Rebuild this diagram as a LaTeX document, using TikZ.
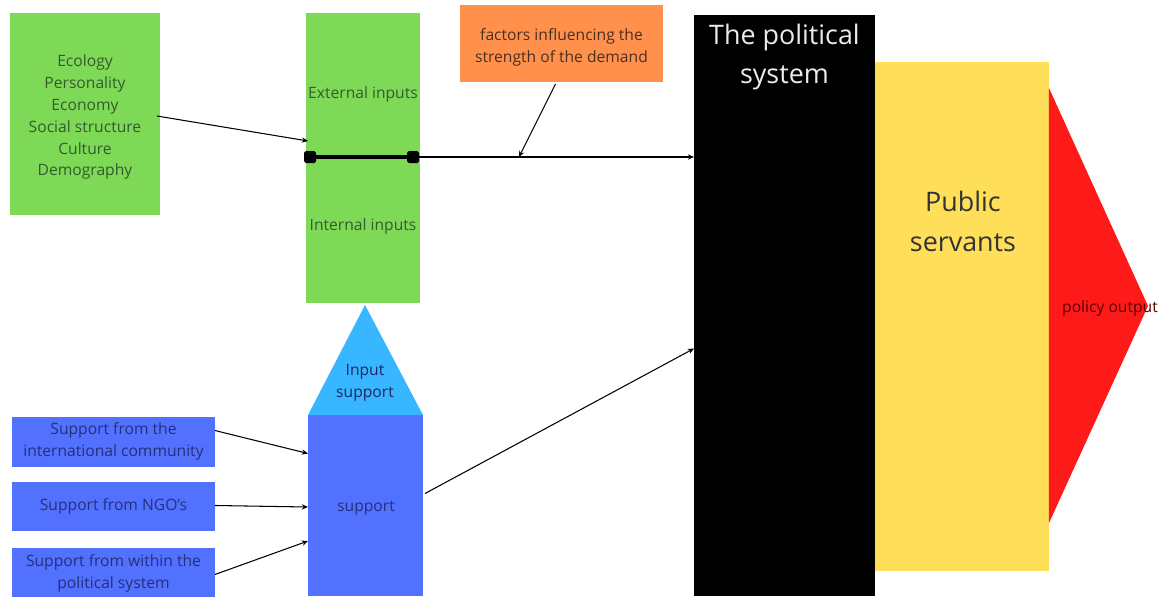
\documentclass[tikz,border=0pt]{standalone}
\usepackage{xcolor}
\usepackage{fontspec}
\setmainfont{Open Sans}
\usepackage{tikz}
\usetikzlibrary{shapes,arrows.meta}
\usetikzlibrary{positioning,calc}
\definecolor{boxgreen}{HTML}{7ED957}
\definecolor{boxorange}{HTML}{FF914D}
\definecolor{boxyellow}{HTML}{FFDE59}
\definecolor{boxred}{HTML}{FF1A1A}
\definecolor{boxsky}{HTML}{38B6FF}
\definecolor{boxblue}{HTML}{5271FF}
\definecolor{greentext}{HTML}{355A2E}
\definecolor{bluetext}{HTML}{24307A}
\definecolor{darktext}{HTML}{4A3020}
\tikzstyle{block} = [rectangle, inner sep=0pt, outer sep=0pt,
    text centered, align=center, font=\fontsize{8.9}{12.5}\selectfont]
\tikzstyle{greenblock} = [block, fill=boxgreen, text=greentext]
\tikzstyle{blueblock} = [block, fill=boxblue, text=bluetext,
    minimum width=4.06cm, minimum height=1cm]
\tikzstyle{caption} = [align=center, inner sep=0pt,
    font=\fontsize{8.9}{12.5}\selectfont]
\tikzstyle{bigcaption} = [align=center, inner sep=0pt,
    font=\fontsize{15.3}{22.7}\selectfont]
\tikzstyle{line} = [draw, line width=0.6pt, -{Stealth[length=3.5pt,width=3pt]}]
\tikzstyle{bar} = [draw, line width=1.8pt]
\tikzstyle{barend} = [rectangle, fill=black, minimum size=0.24cm,
    inner sep=0pt, rounded corners=1pt]

\begin{document}
\begin{tikzpicture}[x=0.02cm, y=-0.02cm]
  \useasboundingbox (0,0) rectangle (1167,596);
  % Place nodes
  \node [greenblock, minimum width=3cm, minimum height=4.04cm] (env) at (85,114) {};
  \node [caption, text=greentext] (envtext) at (85,117)
    {Ecology\\Personality\\Economy\\Social structure\\Culture\\Demography};
  \node [greenblock, minimum width=2.28cm, minimum height=5.8cm] (inputs) at (363,158) {};
  \node [caption, text=greentext] (external) at (363,94) {External inputs};
  \node [caption, text=greentext] (internal) at (363,226) {Internal inputs};
  \node [block, fill=boxorange, minimum width=4.06cm, minimum height=1.54cm] (demand) at (561.5,43.5) {};
  \node [caption, text=darktext] (demandtext) at (561.5,47)
    {factors influencing the\\strength of the demand};
  \node [block, fill=black, minimum width=3.62cm, minimum height=11.62cm] (polsys) at (784.5,305.5) {};
  \node [bigcaption, text=white!92!black] (polsystext) at (784.5,57) {The political\\system};
  \node [block, fill=boxyellow, minimum width=3.48cm, minimum height=10.18cm] (servants) at (962,316.5) {};
  \node [bigcaption, text=black!80] (servantstext) at (963,221) {Public\\servants};
  \fill [boxred] (servants.east |- 0,88) -- (1148,306) -- (servants.east |- 0,523) -- cycle;
  \node [caption, text=black!65!red] (output) at (1110,308) {policy output};
  \node [block, fill=boxblue, minimum width=2.3cm, minimum height=3.62cm] (support) at (365.5,505.5) {};
  \node [caption, text=bluetext] (supporttext) at (366,508) {support};
  \fill [boxsky] (support.north west) -- (365,305) -- (support.north east) -- cycle;
  \node [caption, text=bluetext!80!black] (inputsupport) at (365,383) {Input\\support};
  \node [blueblock] (intl) at (113.5,441.5) {Support from the\\international community};
  \node [blueblock, below=0.3cm of intl] (ngo) {Support from NGO's};
  \node [blueblock, below=0.34cm of ngo] (within) {Support from within the\\political system};
  % Demand line
  \coordinate (barl) at (310,157);
  \coordinate (barr) at (413,157);
  \coordinate (demandhit) at (519,157);
  \path[bar] (barl) -- (barr);
  \node [barend] at (barl) {};
  \node [barend] at (barr) {};
  % Draw edges
  \path[line] ($(env.east)+(-3,2)$) -- ($(inputs.west)+(2,-17)$);
  \path[line] (barr) -- (polsys.west |- barr);
  \path[line] ($(demand.south)+(-6,2)$) -- (demandhit);
  \path[line] ($(intl.east)+(0,-11)$) -- ($(support.west)+(0,-52)$);
  \path[line] ($(ngo.east)+(0,-1)$) -- ($(support.west)+(0,1.5)$);
  \path[line] ($(within.east)+(0,1)$) -- ($(support.west)+(0,35.5)$);
  \path[line] ($(support.east)+(2,-12)$) -- ($(polsys.west)+(0,43)$);

\end{tikzpicture}
\end{document}
